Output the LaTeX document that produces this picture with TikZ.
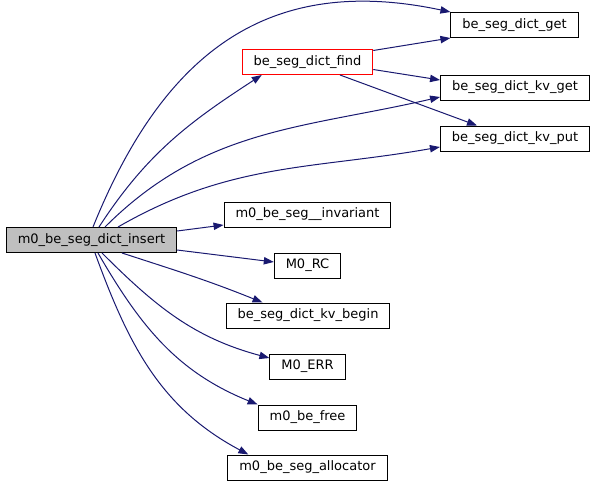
\documentclass[tikz,border=0pt]{standalone}
\usepackage{fontspec}
\setmainfont{DejaVu Sans}
\usetikzlibrary{arrows.meta,calc}
\definecolor{edgeblue}{HTML}{191970}
\definecolor{maingray}{HTML}{BFBFBF}
\begin{document}
\begin{tikzpicture}[x=0.75pt,y=0.75pt,
    fn/.style={draw=black,line width=0.75pt,minimum height=18.75pt,inner xsep=8.6pt,
        inner ysep=0pt,font=\fontsize{9.75pt}{11pt}\selectfont,fill=white},
    call/.style={draw=edgeblue,line width=0.75pt,-{Triangle[length=7.5pt,width=5.5pt]}}]
    \useasboundingbox (0,0) rectangle (596,487);
    % nodes
    \node[fn,fill=maingray] (main) at (91.5,247) {m0\_be\_seg\_dict\_insert};
    \node[fn,draw=red] (find) at (307.5,425) {be\_seg\_dict\_find};
    \node[fn] (get) at (514.5,462) {be\_seg\_dict\_get};
    \node[fn] (kvget) at (515,399.5) {be\_seg\_dict\_kv\_get};
    \node[fn] (kvput) at (515,348.5) {be\_seg\_dict\_kv\_put};
    \node[fn] (inv) at (307.5,272.5) {m0\_be\_seg\_\_invariant};
    \node[fn] (rc) at (307.5,221.5) {M0\_RC};
    \node[fn] (kvbegin) at (308,171.5) {be\_seg\_dict\_kv\_begin};
    \node[fn] (err) at (307.5,120.5) {M0\_ERR};
    \node[fn] (free) at (307.5,69.5) {m0\_be\_free};
    \node[fn] (alloc) at (307.5,19.5) {m0\_be\_seg\_allocator};
    % calls from the top of main
    \draw[call] ($(main.north)+(1.5,0)$) to[out=68,in=168,looseness=1.15] (get.north west);
    \draw[call] ($(main.north)+(7.5,0)$) to[out=57,in=213] ($(find.south west)+(20,0)$);
    \draw[call] ($(main.north)+(13.5,0)$) to[out=45,in=193] ($(kvget.west)+(0,-9.5)$);
    \draw[call] ($(main.north)+(26.5,0)$) to[out=30,in=190] ($(kvput.west)+(0,-8.5)$);
    % calls from the side
    \draw[call] ($(main.east)+(0,9)$) -- ($(inv.west)+(0,-10.5)$);
    \draw[call] ($(main.east)+(0,-10)$) -- ($(rc.west)+(0,3.5)$);
    % calls from the bottom
    \draw[call] ($(main.south)+(30.5,0)$) to[out=-18,in=158] ($(kvbegin.north west)+(37,0)$);
    \draw[call] ($(main.south)+(10.5,0)$) to[out=-45,in=165] ($(err.west)+(0,8.5)$);
    \draw[call] ($(main.south)+(6.5,0)$) to[out=-60,in=158] (free.north west);
    \draw[call] ($(main.south)+(3.5,0)$) to[out=-70,in=152] ($(alloc.north west)+(21,0)$);
    % calls of find
    \draw[call] ($(find.north east)+(0,-1.5)$) -- (get.south west);
    \draw[call] ($(find.east)+(0,-7.5)$) -- ($(kvget.west)+(0,7.5)$);
    \draw[call] ($(find.south)+(32.5,0)$) -- ($(kvput.north)+(-38,0)$);
\end{tikzpicture}
\end{document}
